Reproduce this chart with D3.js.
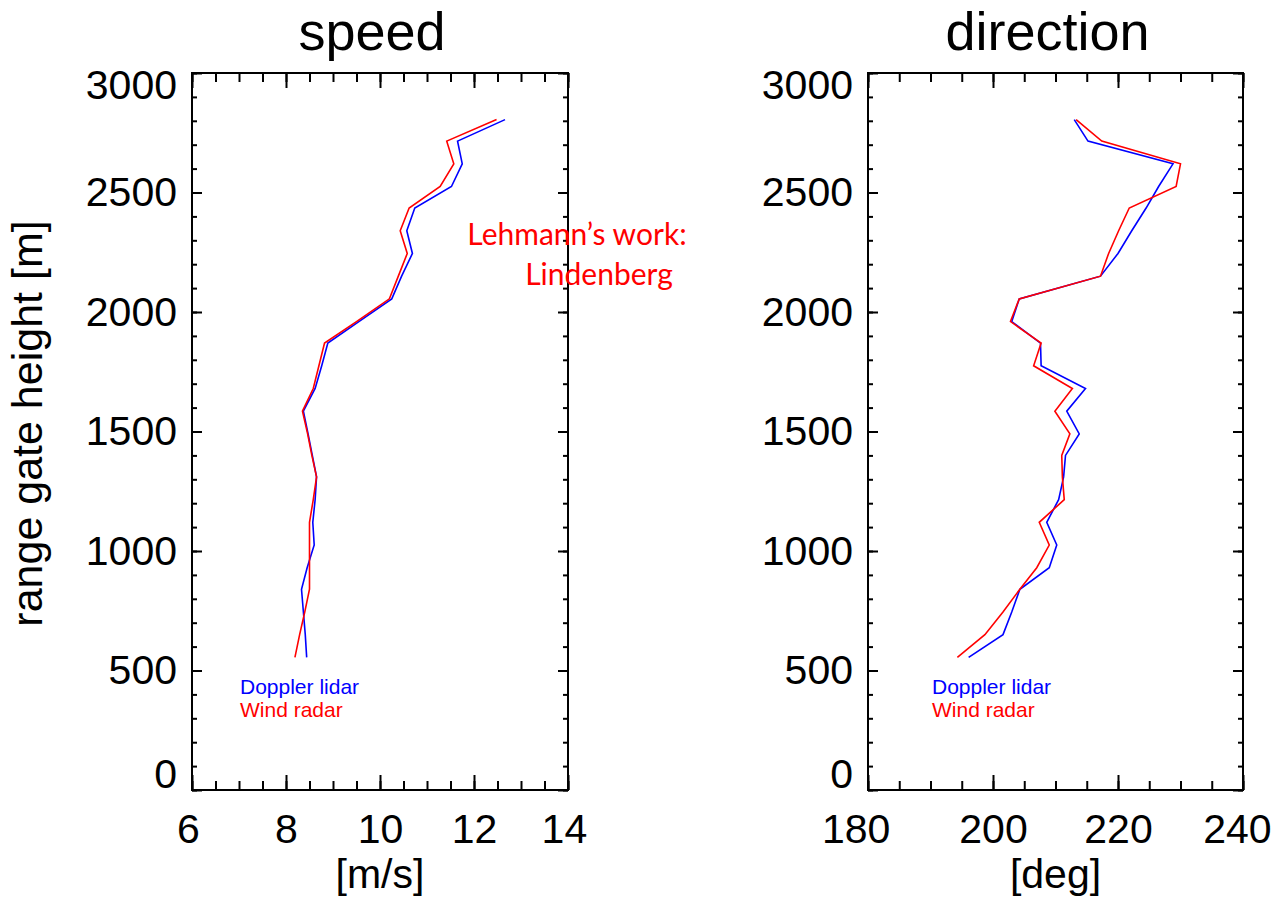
<!DOCTYPE html>
<html>
<head>
<meta charset="utf-8">
<script src="https://cdn.jsdelivr.net/npm/d3@7"></script>
<style>
  body { margin: 0; background: #fff; }
  svg { display: block; }
  .tick text { font-family: "Liberation Sans", Arial, sans-serif; fill: #000; }
  .domain { display: none; }
</style>
</head>
<body>
<div id="chart"></div>
<script>
// range gate heights [m]
var heights = [555, 650, 745, 840, 930, 1025, 1120, 1215, 1310, 1400, 1490, 1585, 1680,
  1775, 1870, 1960, 2055, 2150, 2245, 2340, 2435, 2525, 2620, 2715, 2805];

// wind speed [m/s]
var speedLidar = [8.44, 8.41, 8.37, 8.33, 8.45, 8.60, 8.57, 8.62, 8.65, 8.56, 8.47, 8.37, 8.62,
  8.76, 8.89, 9.55, 10.25, 10.46, 10.69, 10.57, 10.74, 11.52, 11.75, 11.65, 12.66];
var speedRadar = [8.19, 8.29, 8.40, 8.50, 8.50, 8.50, 8.50, 8.58, 8.65, 8.55, 8.46, 8.35, 8.58,
  8.70, 8.82, 9.50, 10.20, 10.39, 10.58, 10.43, 10.62, 11.28, 11.57, 11.42, 12.48];

// wind direction [deg]
var dirLidar = [196.1, 201.6, 203.0, 204.3, 209.0, 210.2, 208.6, 210.5, 211.3, 211.6, 213.8, 211.8, 214.8,
  207.7, 207.6, 203.0, 204.2, 217.2, 220.0, 222.2, 224.5, 226.5, 228.8, 215.2, 213.0];
var dirRadar = [194.3, 198.7, 201.6, 204.3, 207.0, 209.0, 207.4, 211.4, 211.1, 211.0, 212.3, 209.9, 212.7,
  206.5, 207.7, 202.8, 204.2, 217.2, 218.5, 220.1, 221.8, 229.3, 230.0, 217.4, 213.3];

var heightTicks = [0, 500, 1000, 1500, 2000, 2500, 3000];
var speedTicks = [6, 8, 10, 12, 14];
var dirTicks = [180, 200, 220, 240];

var svgWidth = 1285;
var svgHeight = 902;
var plotTop = 73, plotBottom = 790;

var svg = d3.select("#chart")
  .append("svg")
  .attr("width", svgWidth)
  .attr("height", svgHeight);

var y = d3.scaleLinear().domain([0, 3000]).range([plotBottom, plotTop]);

function drawPanel(opts) {
  var x = d3.scaleLinear().domain(opts.domain).range([opts.x0, opts.x1]);
  var w = opts.x1 - opts.x0;
  var h = plotBottom - plotTop;
  var g = svg.append("g");

  var minorX = d3.range(opts.domain[0], opts.domain[1] + 1e-9, opts.minorStep);
  var minorY = d3.range(0, 3001, 100);

  // minor + major ticks on all four sides, pointing inward
  [[d3.axisBottom, plotBottom, minorX, 9], [d3.axisBottom, plotBottom, opts.ticks, 15],
   [d3.axisTop, plotTop, minorX, 9], [d3.axisTop, plotTop, opts.ticks, 15]].forEach(function(a) {
    g.append("g")
      .attr("transform", `translate(0,${a[1]})`)
      .call(a[0](x).tickValues(a[2]).tickSize(-a[3]).tickFormat(""))
      .selectAll("line").attr("stroke", "#000").attr("stroke-width", 2);
  });
  [[d3.axisLeft, opts.x0, minorY, 5], [d3.axisLeft, opts.x0, heightTicks, 10],
   [d3.axisRight, opts.x1, minorY, 5], [d3.axisRight, opts.x1, heightTicks, 10]].forEach(function(a) {
    g.append("g")
      .attr("transform", `translate(${a[1]},0)`)
      .call(a[0](y).tickValues(a[2]).tickSize(-a[3]).tickFormat(""))
      .selectAll("line").attr("stroke", "#000").attr("stroke-width", 2);
  });

  // frame
  g.append("rect")
    .attr("x", opts.x0).attr("y", plotTop)
    .attr("width", w).attr("height", h)
    .attr("fill", "none").attr("stroke", "#000").attr("stroke-width", 2);

  // tick labels (end labels nudged inward like the original)
  var xl = g.append("g")
    .attr("transform", `translate(0,${plotBottom})`)
    .call(d3.axisBottom(x).tickValues(opts.ticks).tickSize(0).tickPadding(24).tickFormat(d3.format("d")));
  xl.selectAll("text")
    .style("font-size", "41px")
    .attr("dx", function(d, i) {
      var n = String(d).length;
      if (i === 0) return (-0.1 * n) + "em";
      if (i === opts.ticks.length - 1) return (-0.05 * n) + "em";
      return 0;
    });

  var yl = g.append("g")
    .attr("transform", `translate(${opts.x0},0)`)
    .call(d3.axisLeft(y).tickValues(heightTicks).tickSize(0).tickPadding(15).tickFormat(d3.format("d")));
  yl.selectAll("text")
    .style("font-size", "41px")
    .attr("dy", function(d) { return d === 3000 ? "0.62em" : d === 0 ? "-0.05em" : "0.32em"; });

  // series lines
  var line = d3.line()
    .x(function(d) { return x(d[0]); })
    .y(function(d) { return y(d[1]); });

  g.append("path")
    .datum(d3.zip(opts.lidar, heights))
    .attr("d", line)
    .attr("fill", "none").attr("stroke", "#0000ff").attr("stroke-width", 1.6);

  g.append("path")
    .datum(d3.zip(opts.radar, heights))
    .attr("d", line)
    .attr("fill", "none").attr("stroke", "#ff0000").attr("stroke-width", 1.6);

  // legend
  g.append("text")
    .attr("x", opts.legendX).attr("y", 694)
    .attr("fill", "#0000ff")
    .style("font-family", "Liberation Sans, Arial, sans-serif").style("font-size", "21px")
    .text("Doppler lidar");
  g.append("text")
    .attr("x", opts.legendX).attr("y", 717)
    .attr("fill", "#ff0000")
    .style("font-family", "Liberation Sans, Arial, sans-serif").style("font-size", "21px")
    .text("Wind radar");

  // title and x-axis label
  g.append("text")
    .attr("x", (opts.x0 + opts.x1) / 2 - 8).attr("y", 50)
    .attr("text-anchor", "middle")
    .style("font-family", "Liberation Sans, Arial, sans-serif").style("font-size", "54px")
    .text(opts.title);
  g.append("text")
    .attr("x", (opts.x0 + opts.x1) / 2).attr("y", 888)
    .attr("text-anchor", "middle")
    .style("font-family", "Liberation Sans, Arial, sans-serif").style("font-size", "41px")
    .text(opts.unit);
}

drawPanel({
  domain: [6, 14], ticks: speedTicks, minorStep: 0.5,
  x0: 192, x1: 568, lidar: speedLidar, radar: speedRadar,
  legendX: 240, title: "speed", unit: "[m/s]"
});

drawPanel({
  domain: [180, 240], ticks: dirTicks, minorStep: 5,
  x0: 868, x1: 1243, lidar: dirLidar, radar: dirRadar,
  legendX: 932, title: "direction", unit: "[deg]"
});

// y-axis title
svg.append("text")
  .attr("transform", `translate(42, ${(plotTop + plotBottom) / 2 - 8}) rotate(-90)`)
  .attr("text-anchor", "middle")
  .style("font-family", "Liberation Sans, Arial, sans-serif").style("font-size", "43px")
  .text("range gate height [m]");

// annotation
var note = svg.append("text")
  .attr("fill", "#ff0000")
  .style("font-family", "Lato, 'Open Sans', sans-serif").style("font-size", "30px")
  .attr("text-anchor", "middle");
note.append("tspan").attr("x", 577).attr("y", 245).text("Lehmann\u2019s work:");
note.append("tspan").attr("x", 599).attr("y", 285).text("Lindenberg");
</script>
</body>
</html>
